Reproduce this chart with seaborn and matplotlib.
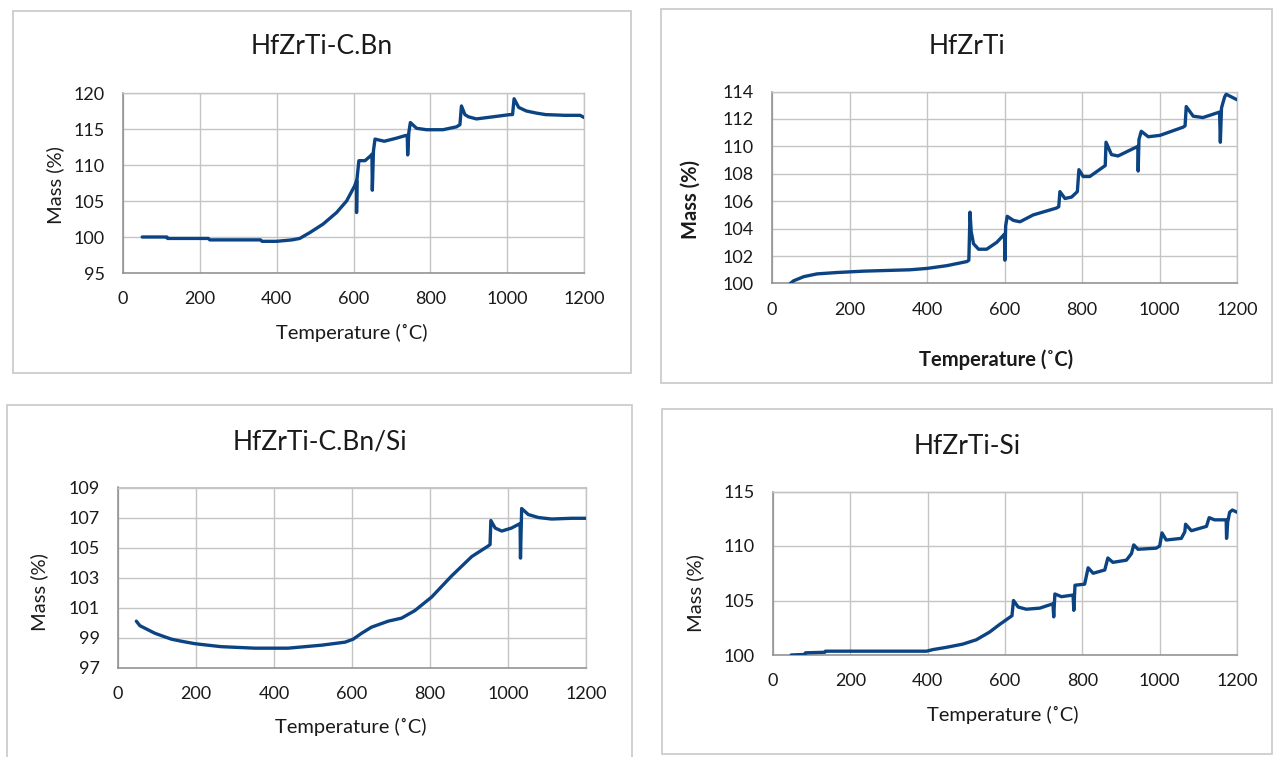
import matplotlib
matplotlib.use("Agg")
import matplotlib.pyplot as plt
from matplotlib.patches import Rectangle
import seaborn as sns
import pandas as pd

# ---------------- data ----------------
temp_cbn = [50, 114, 116, 222, 226, 358, 362, 400, 440, 460, 486, 521, 556, 582, 603, 608, 608, 609, 614, 630,
            645, 648, 649, 652, 656, 680, 710, 736, 740, 741, 744, 748, 764, 790, 833, 868, 877, 881, 890, 899,
            920, 964, 1007, 1014, 1018, 1030, 1050, 1077, 1100, 1150, 1190, 1200]
mass_cbn = [100.0, 100.0, 99.8, 99.8, 99.6, 99.6, 99.4, 99.4, 99.6, 99.8, 100.6, 101.8, 103.4, 105.0, 107.1, 107.8, 103.4, 108.0, 110.6, 110.6,
            111.3, 111.5, 106.5, 112.0, 113.6, 113.3, 113.7, 114.1, 114.1, 111.4, 114.5, 115.9, 115.1, 114.9, 114.9, 115.3, 115.6, 118.2, 117.0, 116.7,
            116.4, 116.7, 117.0, 117.0, 119.2, 118.0, 117.5, 117.2, 117.0, 116.9, 116.9, 116.6]

temp_hzt = [47, 56, 82, 116, 167, 236, 356, 400, 451, 503, 508, 511, 514, 520, 533, 554, 580, 600, 601, 603,
            607, 623, 640, 674, 734, 740, 743, 756, 773, 788, 792, 803, 820, 855, 860, 862, 876, 893, 944, 945,
            947, 953, 971, 1001, 1061, 1066, 1069, 1087, 1112, 1155, 1157, 1160, 1168, 1172, 1200]
mass_hzt = [100.0, 100.2, 100.5, 100.7, 100.8, 100.9, 101.0, 101.1, 101.3, 101.6, 101.7, 105.2, 103.8, 102.9, 102.5, 102.5, 103.0, 103.6, 101.7, 104.2,
            104.9, 104.6, 104.5, 105.0, 105.5, 105.6, 106.7, 106.2, 106.3, 106.7, 108.3, 107.8, 107.8, 108.5, 108.6, 110.3, 109.4, 109.3, 110.0, 108.2,
            110.5, 111.1, 110.7, 110.8, 111.4, 111.5, 112.9, 112.2, 112.1, 112.5, 110.3, 112.8, 113.6, 113.8, 113.4]

temp_cbnsi = [47, 56, 75, 94, 115, 137, 165, 197, 230, 265, 351, 436, 522, 582, 603, 625, 650, 693, 727, 761,
              804, 855, 907, 949, 954, 956, 967, 984, 1009, 1031, 1032, 1035, 1052, 1078, 1112, 1163, 1200]
mass_cbnsi = [100.1, 99.8, 99.55, 99.3, 99.1, 98.9, 98.75, 98.6, 98.5, 98.4, 98.3, 98.3, 98.5, 98.7, 98.9, 99.3, 99.7, 100.1, 100.3, 100.8,
              101.7, 103.1, 104.4, 105.1, 105.2, 106.8, 106.3, 106.1, 106.3, 106.6, 104.3, 107.6, 107.2, 107.0, 106.9, 106.95, 106.95]

temp_si = [47, 82, 84, 134, 136, 397, 414, 448, 491, 526, 560, 586, 618, 622, 634, 655, 690, 724, 726, 729,
           746, 776, 778, 781, 806, 815, 828, 858, 866, 879, 914, 927, 933, 944, 991, 1000, 1006, 1017, 1056, 1065,
           1067, 1082, 1121, 1128, 1142, 1172, 1173, 1176, 1181, 1188, 1200]
mass_si = [100.0, 100.05, 100.2, 100.25, 100.35, 100.35, 100.5, 100.7, 101.0, 101.4, 102.1, 102.8, 103.6, 105.0, 104.4, 104.2, 104.3, 104.7, 103.5, 105.6,
           105.35, 105.5, 104.1, 106.4, 106.5, 108.0, 107.5, 107.8, 108.9, 108.5, 108.7, 109.3, 110.1, 109.7, 109.8, 110.0, 111.2, 110.55, 110.7, 111.3,
           112.0, 111.4, 111.8, 112.6, 112.4, 112.4, 110.7, 112.2, 113.1, 113.3, 113.1]

titles = ["HfZrTi-C.Bn", "HfZrTi", "HfZrTi-C.Bn/Si", "HfZrTi-Si"]
x_ticks = [0, 200, 400, 600, 800, 1000, 1200]
y_ticks_cbn = [95, 100, 105, 110, 115, 120]
y_ticks_hzt = [100, 102, 104, 106, 108, 110, 112, 114]
y_ticks_cbnsi = [97, 99, 101, 103, 105, 107, 109]
y_ticks_si = [100, 105, 110, 115]
x_label = "Temperature (˚C)"
y_label = "Mass (%)"

# ---------------- style ----------------
sns.set_theme(style="white")
plt.rcParams["font.family"] = ["Lato", "DejaVu Sans"]

W, H = 1274, 757
fig = plt.figure(figsize=(W / 100, H / 100), dpi=100)
fig.patch.set_facecolor("white")

LINE = "#0C4483"
GRID = "#C4C4C4"
AXIS = "#8C8C8C"
TXT = "#1A1A1A"


def fpos(x0, y0, x1, y1):
    return [x0 / W, 1 - y1 / H, (x1 - x0) / W, (y1 - y0) / H]


panels = [
    dict(t=temp_cbn, m=mass_cbn, yt=y_ticks_cbn, ax=(123, 93, 584, 273), box=(13, 11, 631, 373),
         title=(322, 47), xl=(0.497, -0.333), yl=(-0.1475, 0.489), bold=False),
    dict(t=temp_hzt, m=mass_hzt, yt=y_ticks_hzt, ax=(772, 91.5, 1237, 283.5), box=(661, 9, 1272, 383),
         title=(967, 47), xl=(0.482, -0.398), yl=(-0.174, 0.435), bold=True),
    dict(t=temp_cbnsi, m=mass_cbnsi, yt=y_ticks_cbnsi, ax=(118, 487.5, 586, 667.7), box=(7, 405, 632, 770),
         title=(320, 442), xl=(0.498, -0.329), yl=(-0.169, 0.42), bold=False),
    dict(t=temp_si, m=mass_si, yt=y_ticks_si, ax=(773, 491.5, 1237, 655), box=(662, 409, 1272, 754),
         title=(967, 447), xl=(0.496, -0.367), yl=(-0.168, 0.379), bold=False),
]

for p, title in zip(panels, titles):
    bx0, by0, bx1, by1 = p["box"]
    fig.patches.append(Rectangle((bx0 / W, 1 - by1 / H), (bx1 - bx0) / W, (by1 - by0) / H,
                                 transform=fig.transFigure, fill=False, edgecolor="#CDCDCD",
                                 linewidth=1.3, zorder=0))
    ax = fig.add_axes(fpos(*p["ax"]))
    df = pd.DataFrame({"Temperature": p["t"], "Mass": p["m"]})
    sns.lineplot(data=df, x="Temperature", y="Mass", ax=ax, sort=False, estimator=None,
                 color=LINE, linewidth=2.4, zorder=3)
    ax.set_xlim(0, 1200)
    ax.set_ylim(p["yt"][0], p["yt"][-1])
    ax.set_xticks(x_ticks)
    ax.set_yticks(p["yt"])
    ax.grid(True, color=GRID, linewidth=1.0, zorder=0)
    ax.set_axisbelow(True)
    for s in ["top", "right"]:
        ax.spines[s].set_color(GRID)
        ax.spines[s].set_linewidth(1.0)
    for s in ["left", "bottom"]:
        ax.spines[s].set_color(AXIS)
        ax.spines[s].set_linewidth(1.1)
    ax.tick_params(length=0, pad=13, labelsize=13, labelcolor=TXT)
    weight = "bold" if p["bold"] else "normal"
    ax.set_xlabel(x_label, fontsize=14.5, color=TXT, fontweight=weight)
    ax.set_ylabel(y_label, fontsize=14.5, color=TXT, fontweight=weight)
    ax.xaxis.label.set_va("center")
    ax.xaxis.label.set_ha("center")
    ax.yaxis.label.set_va("center")
    ax.yaxis.label.set_ha("center")
    ax.xaxis.set_label_coords(*p["xl"])
    ax.yaxis.set_label_coords(*p["yl"])
    tx, ty = p["title"]
    fig.text(tx / W, 1 - ty / H, title, ha="center", va="center", fontsize=19, color=TXT)

fig.savefig("out.png", dpi=100, facecolor="white")
